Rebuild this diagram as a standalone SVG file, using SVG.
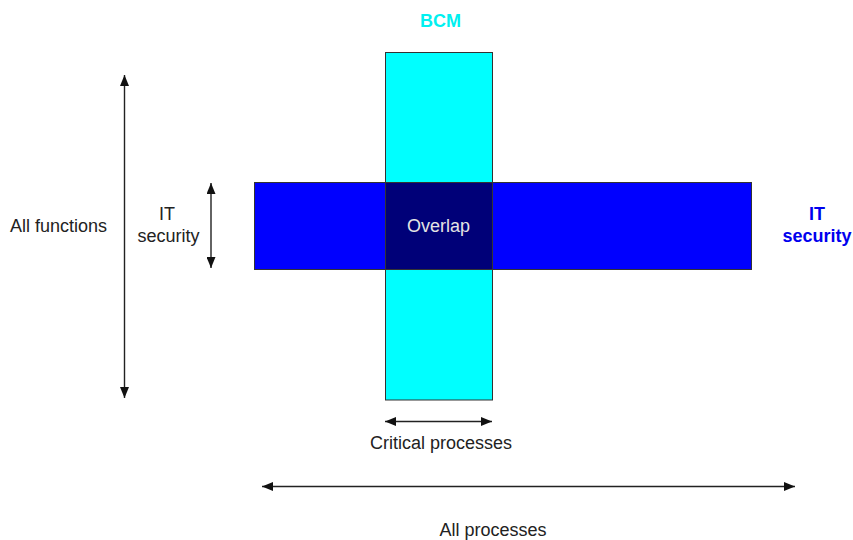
<svg xmlns="http://www.w3.org/2000/svg" width="853" height="540" viewBox="0 0 853 540">
  <defs>
    <marker id="head" viewBox="0 0 11 9" refX="11" refY="4.5" markerWidth="11" markerHeight="9" markerUnits="userSpaceOnUse" orient="auto-start-reverse">
      <path d="M0,0 L11,4.5 L0,9 Z" fill="#111"/>
    </marker>
  </defs>
  <style>
    text { font-family: "Liberation Sans", Arial, sans-serif; font-size: 18px; }
    .lbl { fill: #222; }
    .box { stroke: #333; stroke-width: 1; }
    .arrow { stroke: #222; stroke-width: 1.4; fill: none; marker-start: url(#head); marker-end: url(#head); }
  </style>
  <rect width="853" height="540" fill="#fff"/>

  <g id="it-security">
    <rect class="box" x="254.5" y="182.5" width="497" height="87" fill="#0000ff"/>
    <text x="817" y="219.5" text-anchor="middle" font-weight="bold" fill="#0000ee">IT</text>
    <text x="817" y="242" text-anchor="middle" font-weight="bold" fill="#0000ee">security</text>
  </g>

  <g id="bcm">
    <rect class="box" x="385.5" y="52.5" width="107" height="347.5" fill="#00ffff"/>
    <text x="440.5" y="26.5" text-anchor="middle" font-weight="bold" fill="#00f0f0">BCM</text>
  </g>

  <g id="overlap">
    <rect class="box" x="385.5" y="182.5" width="107" height="87" fill="#000078"/>
    <text x="438.5" y="231.5" text-anchor="middle" fill="#e4e4e4">Overlap</text>
  </g>

  <g id="connectors">
    <line class="arrow" x1="124.5" y1="75" x2="124.5" y2="398"/>
    <line class="arrow" x1="211" y1="183" x2="211" y2="268"/>
    <line class="arrow" x1="385" y1="421.5" x2="492" y2="421.5"/>
    <line class="arrow" x1="262" y1="486.5" x2="795" y2="486.5"/>
  </g>

  <g id="labels">
    <text class="lbl" x="10" y="232">All functions</text>
    <text class="lbl" x="167" y="220" text-anchor="middle">IT</text>
    <text class="lbl" x="168.5" y="242" text-anchor="middle">security</text>
    <text class="lbl" x="441" y="449" text-anchor="middle">Critical processes</text>
    <text class="lbl" x="493" y="536" text-anchor="middle">All processes</text>
  </g>
</svg>
